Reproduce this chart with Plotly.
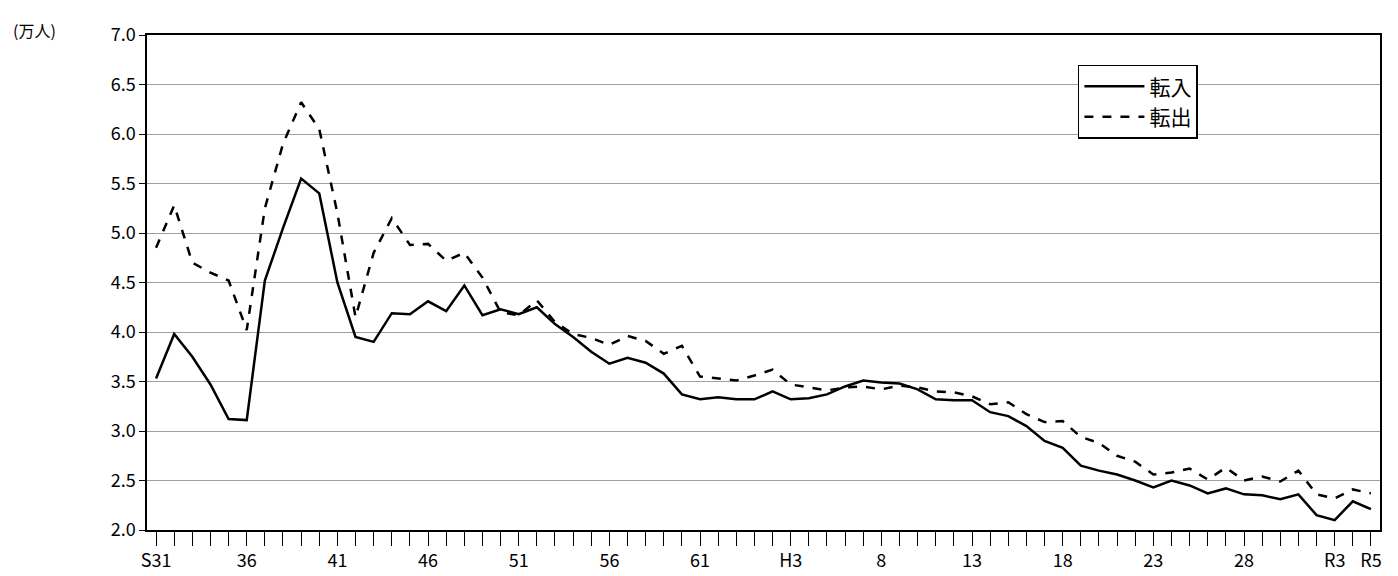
import plotly.graph_objects as go

tick_pos = [0, 5, 10, 15, 20, 25, 30, 35, 40, 45, 50, 55, 60, 65, 67]
tick_text = ["S31", "36", "41", "46", "51", "56", "61", "H3", "8", "13", "18", "23", "28", "R3", "R5"]

tennyu = [3.53, 3.98, 3.75, 3.47, 3.12, 3.11, 4.52, 5.05, 5.55, 5.40,
          4.50, 3.95, 3.90, 4.19, 4.18, 4.31, 4.21, 4.47, 4.17, 4.23,
          4.18, 4.25, 4.08, 3.95, 3.80, 3.68, 3.74, 3.69, 3.58, 3.37,
          3.32, 3.34, 3.32, 3.32, 3.40, 3.32, 3.33, 3.37, 3.45, 3.51,
          3.49, 3.48, 3.42, 3.32, 3.31, 3.31, 3.19, 3.15, 3.05, 2.90,
          2.83, 2.65, 2.60, 2.56, 2.50, 2.43, 2.50, 2.45, 2.37, 2.42,
          2.36, 2.35, 2.31, 2.36, 2.15, 2.10, 2.29, 2.21]

tenshutsu = [4.85, 5.28, 4.70, 4.60, 4.52, 4.02, 5.25, 5.90, 6.32, 6.05,
             5.20, 4.15, 4.80, 5.15, 4.88, 4.89, 4.72, 4.80, 4.55, 4.20,
             4.17, 4.32, 4.10, 3.98, 3.94, 3.87, 3.96, 3.91, 3.78, 3.86,
             3.55, 3.53, 3.51, 3.56, 3.62, 3.47, 3.44, 3.41, 3.44, 3.45,
             3.42, 3.46, 3.44, 3.40, 3.39, 3.35, 3.27, 3.29, 3.17, 3.09,
             3.10, 2.94, 2.88, 2.75, 2.69, 2.56, 2.58, 2.62, 2.51, 2.63,
             2.50, 2.54, 2.49, 2.60, 2.36, 2.32, 2.41, 2.37]

x = list(range(len(tennyu)))

fig = go.Figure()
fig.add_trace(go.Scatter(x=x, y=tennyu, mode="lines", name="転入",
                         line=dict(color="black", width=2.5)))
fig.add_trace(go.Scatter(x=x, y=tenshutsu, mode="lines", name="転出",
                         line=dict(color="black", width=2.5, dash="dash")))

fig.update_layout(
    width=1398, height=576,
    margin=dict(l=139, r=26, t=21, b=51),
    plot_bgcolor="white", paper_bgcolor="white",
    font=dict(family="Noto Sans CJK JP", size=18, color="black"),
    legend=dict(x=0.755, y=0.94, xanchor="left", yanchor="top",
                bordercolor="black", borderwidth=1.5, bgcolor="white",
                font=dict(size=21), itemwidth=60, tracegroupgap=14),
    xaxis=dict(range=[-0.5, len(x) - 0.5], tickvals=tick_pos, ticktext=tick_text,
               ticks="outside", ticklen=14, tickcolor="black",
               minor=dict(dtick=1, tick0=0, ticks="outside", ticklen=14, tickcolor="black"),
               showline=True, linecolor="black", linewidth=1.5, showgrid=False,
               mirror=True, zeroline=False),
    yaxis=dict(range=[2.0, 7.0], dtick=0.5, tickformat=".1f",
               ticks="outside", ticklen=6, tickcolor="black",
               showline=True, linecolor="black", linewidth=1.5, mirror=True,
               showgrid=True, gridcolor="#a0a0a0", zeroline=False),
)
fig.add_annotation(text="(万人)", xref="paper", yref="paper", x=-0.11, y=1.01,
                   xanchor="left", yanchor="middle", showarrow=False,
                   font=dict(size=16))

fig.write_html("out.html")
